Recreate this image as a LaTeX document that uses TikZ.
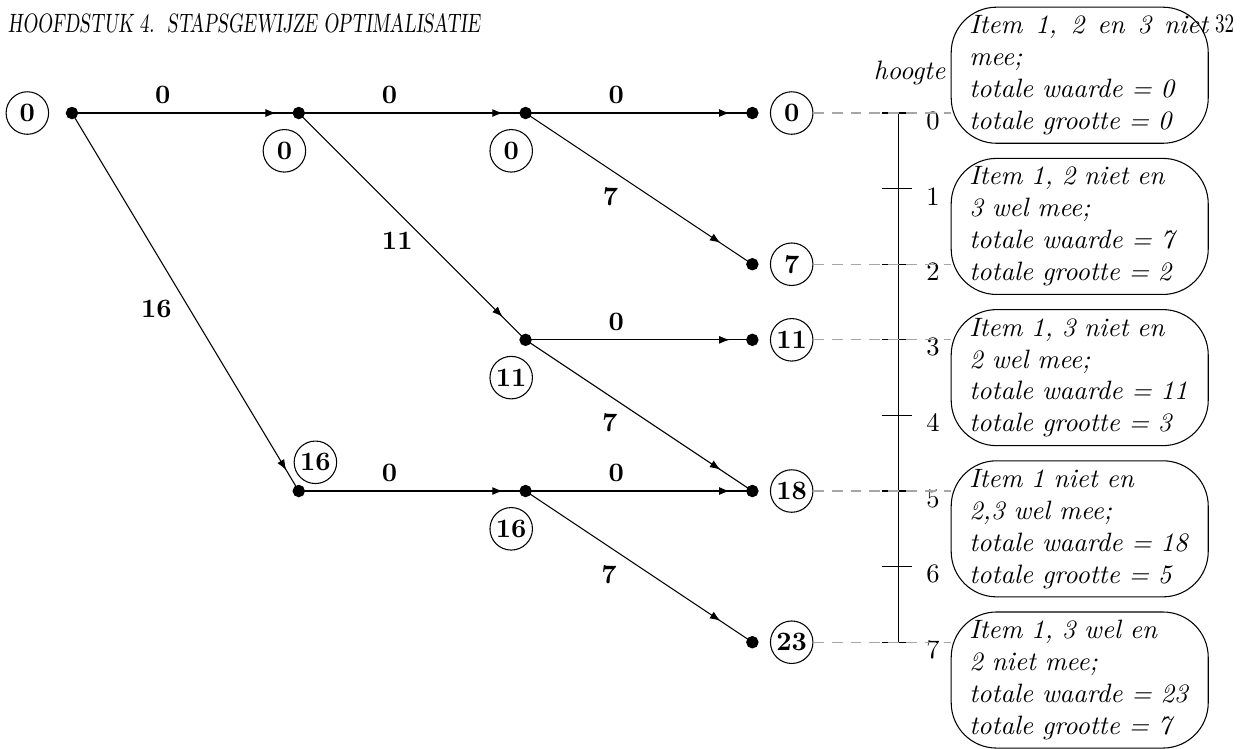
\documentclass[tikz,border=0pt]{standalone}
\usepackage{graphicx}
\usepackage{tikz}
\usetikzlibrary{arrows.meta,decorations.markings}
\usetikzlibrary{positioning}

\begin{document}
\begin{tikzpicture}
		[> = {Latex[length=4pt,width=3pt]},
		dot/.style = {draw,fill,circle,inner sep=0pt,minimum size=0.15cm},
		val/.style = {draw,circle,inner sep=0.5pt,minimum size=16pt,font=\bfseries},
		lbl/.style = {font=\bfseries},
		arrow inside/.style = {postaction=decorate,decoration={markings,mark=at position #1 with \arrow{>}}},
		arrow inside/.default = .9,
		guide/.style = {gray!70,dash pattern=on 4pt off 3pt},
		uitleg/.style = {draw,rounded corners=0.6cm,text width=2.92cm,inner xsep=0.24cm,inner ysep=0.1cm,
			minimum height=1.8cm,align=left,font=\itshape}
		]
		\useasboundingbox (-0.952,-8.412) rectangle (15.543,1.495);

		% kop van de bladzijde
		\node[anchor=base west,inner sep=0pt] (kop) at (-0.85,1.07)
			{\scalebox{.72}[1]{\slshape HOOFDSTUK 4.\ \ STAPSGEWIJZE OPTIMALISATIE}};
		\node[anchor=base east,inner sep=0pt] (blz) at (15.38,1.07) {\scalebox{.72}[1]{32}};

		% toestanden
		\node[dot] (s)  at (0,0) {};
		\node[dot] (a0) at (3,0) {};
		\node[dot] (a5) at (3,-5) {};
		\node[dot] (b0) at (6,0) {};
		\node[dot] (b3) at (6,-3) {};
		\node[dot] (b5) at (6,-5) {};
		\node[dot] (c0) at (9,0) {};
		\node[dot] (c2) at (9,-2) {};
		\node[dot] (c3) at (9,-3) {};
		\node[dot] (c5) at (9,-5) {};
		\node[dot] (c7) at (9,-7) {};

		\node[val, left=0.22cm of s] (vs) {0};
		\node[val] (va0) at ([shift={(-0.19,-0.5)}]a0.center) {0};
		\node[val] (va5) at ([shift={(0.22,0.38)}]a5.center) {16};
		\node[val] (vb0) at ([shift={(-0.19,-0.5)}]b0.center) {0};
		\node[val] (vb3) at ([shift={(-0.19,-0.5)}]b3.center) {11};
		\node[val] (vb5) at ([shift={(-0.19,-0.5)}]b5.center) {16};
		\node[val, right=0.15cm of c0] (v0) {0};
		\node[val, right=0.15cm of c2] (v2) {7};
		\node[val, right=0.15cm of c3] (v3) {11};
		\node[val, right=0.15cm of c5] (v5) {18};
		\node[val, right=0.15cm of c7] (v7) {23};

		% overgangen
		\draw[arrow inside] (s.center) -- node[lbl,pos=.4,above] {0} (a0.center);
		\draw[arrow inside=.945] (s.center) -- node[lbl,pos=.518,left=0.11cm] {16} (a5.center);
		\draw[arrow inside] (a0.center) -- node[lbl,pos=.4,above] {0} (b0.center);
		\draw[arrow inside] (a0.center) -- node[lbl,pos=.563,left=0.06cm] {11} (b3.center);
		\draw[arrow inside] (a5.center) -- node[lbl,pos=.4,above] {0} (b5.center);
		\draw[arrow inside] (b0.center) -- node[lbl,pos=.4,above] {0} (c0.center);
		\draw[arrow inside=.86] (b0.center) -- node[lbl,pos=.55,left=0.3cm] {7} (c2.center);
		\draw[arrow inside] (b3.center) -- node[lbl,pos=.4,above] {0} (c3.center);
		\draw[arrow inside=.86] (b3.center) -- node[lbl,pos=.55,left=0.31cm] {7} (c5.center);
		\draw[arrow inside] (b5.center) -- node[lbl,pos=.4,above] {0} (c5.center);
		\draw[arrow inside=.86] (b5.center) -- node[lbl,pos=.55,left=0.32cm] {7} (c7.center);

		% hoogte-as
		\draw (10.93,0) -- (10.93,-7);
		\foreach \h in {0,...,7}{
			\draw (10.71,-\h) -- (11.11,-\h);
			\node (h\h) at (11.39,{-\h-0.1}) {\h};
		}
		\node[anchor=base,font=\itshape] (hoogte) at (11.08,0.44) {hoogte};

		% uitleg
		\node[uitleg] (k1) at (13.33,0.5) {\makebox[3.16cm][s]{\spaceskip=0pt Item 1, 2 en 3 niet}\\ mee;\\ totale waarde = 0\\ totale grootte = 0};
		\node[uitleg] (k2) at (13.33,-1.5) {Item 1, 2 niet en\\ 3 wel mee;\\ totale waarde = 7\\ totale grootte = 2};
		\node[uitleg] (k3) at (13.33,-3.5) {Item 1, 3 niet en\\ 2 wel mee;\\ totale waarde = 11\\ totale grootte = 3};
		\node[uitleg] (k4) at (13.33,-5.5) {Item 1 niet en\\ 2,3 wel mee;\\ totale waarde = 18\\ totale grootte = 5};
		\node[uitleg] (k5) at (13.33,-7.5) {Item 1, 3 wel en\\ 2 niet mee;\\ totale waarde = 23\\ totale grootte = 7};

		\draw[guide] (v0) -- (v0 -| k1.west);
		\draw[guide] (v2) -- (v2 -| k2.west);
		\draw[guide] (v3) -- (v3 -| k3.west);
		\draw[guide] (v5) -- (v5 -| k4.west);
		\draw[guide] (v7) -- (v7 -| k5.west);
	\end{tikzpicture}
\end{document}
